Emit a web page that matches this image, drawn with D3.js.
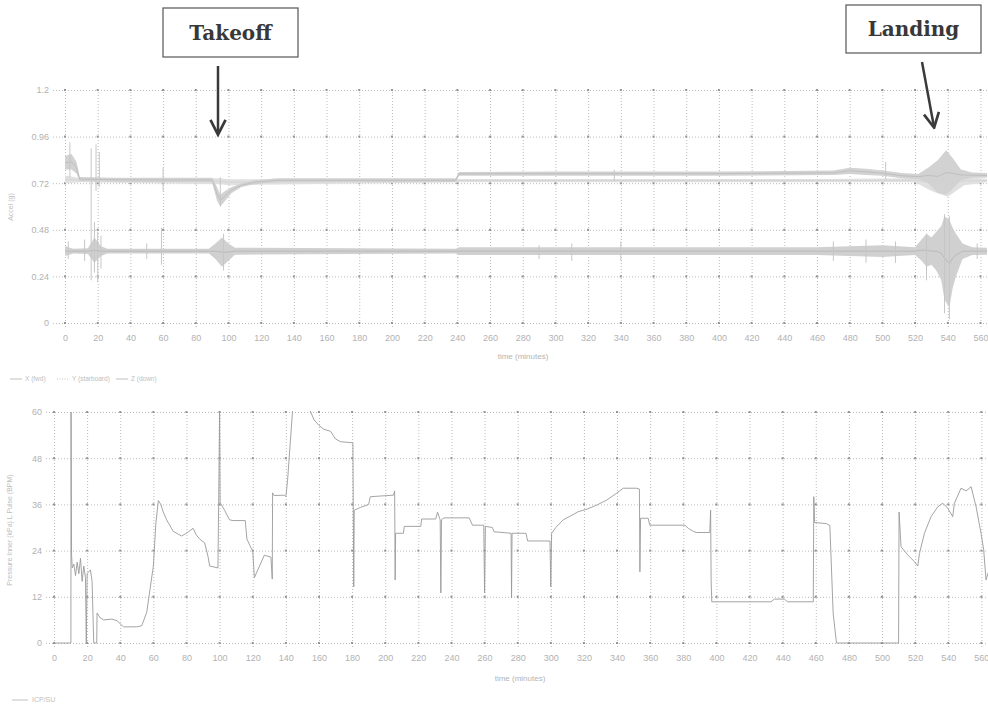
<!DOCTYPE html>
<html lang="en">
<head>
<meta charset="utf-8">
<script src="https://cdn.jsdelivr.net/npm/d3@7/dist/d3.min.js"></script>
<style>
  body { margin: 0; background: #fff; }
  svg text { font-family: "Liberation Sans", Arial, sans-serif; }
  .grid line { stroke: #bcbcbc; stroke-dasharray: 1,2; }
  .grid path { display: none; }
  .grid text { fill: #b2b2b2; font-size: 9px; }
  .note text { font-family: "DejaVu Serif", "Liberation Serif", serif; font-weight: bold; }
</style>
</head>
<body>
<svg id="chart" width="988" height="709"></svg>
<script>
// ---- shared axis values
const timeTicks = d3.range(0, 561, 20);
const topYTicks = [0, 0.24, 0.48, 0.72, 0.96, 1.2];
const topYLabels = ["0", "0.24", "0.48", "0.72", "0.96", "1.2"];
const botYTicks = [0, 12, 24, 36, 48, 60];
const botYLabels = ["0", "12", "24", "36", "48", "60"];

// ---- top chart: acceleration bands (noise envelope)
const xTime = [0, 4, 7, 9, 30, 60, 90, 93, 95, 98, 102, 108, 116, 130, 239, 241, 300, 400, 470, 480, 490, 500, 512, 522, 528, 534, 539, 543, 548, 555, 564];
const xLo   = [0.79, 0.79, 0.77, 0.73, 0.728, 0.725, 0.725, 0.63, 0.60, 0.63, 0.67, 0.70, 0.715, 0.725, 0.725, 0.758, 0.758, 0.758, 0.762, 0.768, 0.762, 0.758, 0.745, 0.74, 0.72, 0.67, 0.66, 0.69, 0.735, 0.748, 0.748];
const xHi   = [0.86, 0.87, 0.83, 0.752, 0.748, 0.748, 0.748, 0.70, 0.66, 0.68, 0.70, 0.72, 0.735, 0.745, 0.745, 0.778, 0.78, 0.78, 0.785, 0.80, 0.795, 0.785, 0.772, 0.768, 0.80, 0.84, 0.89, 0.85, 0.79, 0.775, 0.772];

const yTime = [0, 10, 95, 100, 240, 300, 460, 520, 530, 540, 550, 564];
const yLo   = [0.72, 0.725, 0.715, 0.71, 0.725, 0.725, 0.725, 0.725, 0.68, 0.65, 0.71, 0.725];
const yHi   = [0.76, 0.745, 0.745, 0.74, 0.742, 0.742, 0.742, 0.745, 0.77, 0.79, 0.755, 0.742];

const zTime = [0, 5, 14, 18, 22, 26, 88, 92, 96, 100, 104, 239, 241, 460, 480, 500, 520, 524, 527, 530, 533, 536, 538, 541, 543, 545, 549, 555, 564];
const zLo   = [0.345, 0.358, 0.355, 0.31, 0.345, 0.358, 0.358, 0.33, 0.29, 0.32, 0.352, 0.358, 0.35, 0.35, 0.345, 0.34, 0.35, 0.32, 0.29, 0.30, 0.27, 0.22, 0.12, 0.08, 0.18, 0.24, 0.33, 0.35, 0.352];
const zHi   = [0.395, 0.382, 0.385, 0.44, 0.395, 0.382, 0.382, 0.41, 0.44, 0.41, 0.388, 0.382, 0.39, 0.39, 0.395, 0.40, 0.39, 0.43, 0.46, 0.44, 0.47, 0.50, 0.55, 0.53, 0.49, 0.46, 0.41, 0.39, 0.388];

// single spikes: time, low, high
const spikeTime = [2, 3, 12, 16, 18, 19, 20, 21, 22, 50, 59, 60, 95, 97, 290, 310, 336, 340, 470, 490, 502, 508, 527, 538, 541, 558];
const spikeLo   = [0.33, 0.75, 0.32, 0.22, 0.26, 0.68, 0.21, 0.70, 0.28, 0.33, 0.30, 0.68, 0.60, 0.27, 0.33, 0.32, 0.73, 0.32, 0.32, 0.31, 0.74, 0.31, 0.22, 0.05, 0.02, 0.33];
const spikeHi   = [0.42, 0.93, 0.43, 0.90, 0.52, 0.92, 0.47, 0.88, 0.45, 0.41, 0.49, 0.80, 0.75, 0.46, 0.40, 0.41, 0.79, 0.42, 0.42, 0.43, 0.83, 0.42, 0.46, 0.56, 0.55, 0.41];

// ---- bottom chart: pressure trace
const pTime = [0, 10.2, 10.3, 10.6, 11, 12, 13, 14, 15, 16, 17, 18, 19, 19.5, 20, 22, 23, 24, 25.8, 26, 28, 30, 35, 38, 40, 42, 50, 53, 56, 58, 60, 61.5, 63, 64.5, 66, 68, 72, 77, 80, 84, 86, 88, 91, 93, 94, 99, 100, 100.3, 103, 106, 108, 115.5, 116.5, 119.5, 120, 121, 127, 131, 131.8, 132, 133, 139, 140, 141, 144, 146, 152, 155, 157, 160, 163, 167, 170, 173, 180.5, 181, 181.3, 185, 190, 191, 205, 205.7, 206, 206.3, 211, 211.5, 221.5, 222, 230.5, 231.6, 233.2, 233.6, 234, 235.6, 250.7, 252.7, 259.5, 260, 260.5, 264.7, 265.7, 276, 276.3, 276.6, 285, 286, 299.5, 300, 300.5, 303, 307.5, 312, 316.5, 322, 327.6, 333.7, 339.7, 343.7, 351.8, 353.5, 353.8, 354.2, 358.8, 359.8, 381, 383, 386, 388, 396, 396.5, 396.8, 397.2, 433, 435, 441, 443, 458.5, 458.8, 459.3, 466.5, 468.5, 470.5, 472.5, 510, 510.3, 511.5, 515.5, 519.6, 521.6, 522.6, 525.6, 529.6, 533.7, 536.7, 539.7, 542.7, 543.7, 547.7, 550.8, 553.8, 556.8, 559.8, 561.4, 562.8, 564.5];
const pValue = [0, 0, 60, 23, 19.5, 20.5, 17.5, 21, 18, 22, 16, 20, 17, 0, 18, 19, 16, 0, 0, 7.8, 6.5, 6, 6.2, 5.8, 5, 4.2, 4.2, 4.5, 8, 14, 20, 31, 37, 36, 34, 32, 29, 27.8, 28.5, 29.8, 28, 27, 26, 22.5, 20, 19.5, 60, 36.5, 34.5, 32, 31.8, 31.8, 27, 24.2, 24, 17, 22.8, 22.3, 16.6, 39, 38.3, 38.4, 38, 42, 60, 66, 64, 60, 58, 56.5, 55.5, 55, 53, 52.3, 52, 14.6, 34.5, 35.2, 36, 38, 38.4, 39.5, 16.4, 28.5, 28.5, 30.3, 30.3, 32.2, 32.2, 34, 32, 13, 32, 32.5, 32.5, 30.6, 30.6, 13, 30.3, 30, 28.9, 28.5, 11.7, 28.5, 28.5, 26.5, 26.5, 14.6, 28.5, 30, 32, 33, 34.1, 34.8, 35.8, 37.1, 38.9, 40.2, 40.2, 40, 18.5, 32.4, 32.4, 30.6, 30.6, 29.8, 29, 28.7, 28.7, 34.5, 16.4, 10.7, 10.7, 11.4, 11.4, 10.7, 10.7, 38, 31.3, 31, 30.5, 7.7, 0, 0, 34, 25, 22.9, 21.1, 20, 23.2, 28.5, 32.8, 35.4, 36.3, 35, 32.8, 36.3, 40.2, 39.5, 40.6, 35.4, 28.5, 24.2, 16.4, 18.8];

const svg = d3.select("#chart");

function frame(g, x, y, yTicks, yLabels, gridLeft) {
    const right = x.range()[1];
    const top = y.range()[1], bottom = y.range()[0];

    g.append("g").attr("class", "grid")
        .attr("transform", `translate(0,${bottom + 4})`)
        .call(d3.axisBottom(x).tickValues(timeTicks).tickSize(-(bottom - top + 4)).tickPadding(6))
        .call(s => s.selectAll("text").attr("dy", "0.9em"));

    g.append("g").attr("class", "grid")
        .attr("transform", `translate(${gridLeft},0)`)
        .call(d3.axisLeft(y).tickValues(yTicks).tickSize(-(right - gridLeft))
            .tickFormat((d, i) => yLabels[i]).tickPadding(4));

    // darker dots where grid lines cross
    const dots = [];
    timeTicks.forEach(t => yTicks.forEach(v => dots.push([t, v])));
    g.append("g").selectAll("rect").data(dots).join("rect")
        .attr("x", d => x(d[0]) - 1).attr("y", d => y(d[1]) - 1)
        .attr("width", 2).attr("height", 2).attr("fill", "#939393");
}

// ================= top chart
const xTop = d3.scaleLinear().domain([0, 564]).range([65, 987]);
const yTop = d3.scaleLinear().domain([0, 1.2]).range([323, 90]);
const gTop = svg.append("g");
frame(gTop, xTop, yTop, topYTicks, topYLabels, 53);

svg.append("clipPath").attr("id", "clipTop").append("rect")
    .attr("x", 65).attr("y", 90).attr("width", 922).attr("height", 233);
const topPlot = gTop.append("g").attr("clip-path", "url(#clipTop)");

const band = (ts, lo, hi, fill, stroke) => {
    const rows = ts.map((t, i) => ({ t, lo: lo[i], hi: hi[i] }));
    topPlot.append("path").datum(rows)
        .attr("fill", fill)
        .attr("d", d3.area().x(d => xTop(d.t)).y0(d => yTop(d.lo)).y1(d => yTop(d.hi)));
    topPlot.append("path").datum(rows)
        .attr("fill", "none").attr("stroke", stroke).attr("stroke-width", 0.8)
        .attr("d", d3.line().x(d => xTop(d.t)).y(d => yTop((d.lo + d.hi) / 2)));
};
band(yTime, yLo, yHi, "#e0e0e0", "#d2d2d2");
band(xTime, xLo, xHi, "#d2d2d2", "#bababa");
band(zTime, zLo, zHi, "#d0d0d0", "#b4b4b4");

topPlot.append("g").selectAll("line").data(spikeTime).join("line")
    .attr("x1", d => xTop(d)).attr("x2", d => xTop(d))
    .attr("y1", (d, i) => yTop(spikeLo[i])).attr("y2", (d, i) => yTop(spikeHi[i]))
    .attr("stroke", "#c6c6c6").attr("stroke-width", 1);

gTop.append("text").attr("x", 523).attr("y", 359).attr("text-anchor", "middle")
    .attr("font-size", 8).attr("fill", "#b4b4b4").text("time (minutes)");
gTop.append("text").attr("transform", "translate(13,207) rotate(-90)").attr("text-anchor", "middle")
    .attr("font-size", 7).attr("fill", "#bcbcbc").text("Accel (g)");

// legend (top)
const topLegend = [
    { name: "X (fwd)", x: 10, dash: null },
    { name: "Y (starboard)", x: 57, dash: "1,1.5" },
    { name: "Z (down)", x: 116, dash: null }
];
const lg = svg.append("g").selectAll("g").data(topLegend).join("g")
    .attr("transform", d => `translate(${d.x},379)`);
lg.append("line").attr("x1", 0).attr("x2", 12).attr("stroke", "#c0c0c0")
    .attr("stroke-dasharray", d => d.dash);
lg.append("text").attr("x", 15).attr("dy", "0.35em").attr("font-size", 6.5)
    .attr("fill", "#c0c0c0").text(d => d.name);

// ================= bottom chart
const xBot = d3.scaleLinear().domain([0, 564]).range([54, 988]);
const yBot = d3.scaleLinear().domain([0, 60]).range([643, 412]);
const gBot = svg.append("g");
frame(gBot, xBot, yBot, botYTicks, botYLabels, 46);

svg.append("clipPath").attr("id", "clipBot").append("rect")
    .attr("x", 54).attr("y", 411).attr("width", 934).attr("height", 233);
const pRows = pTime.map((t, i) => ({ t, v: pValue[i] }));
gBot.append("path").datum(pRows).attr("clip-path", "url(#clipBot)")
    .attr("fill", "none").attr("stroke", "#9a9a9a").attr("stroke-width", 0.9)
    .attr("d", d3.line().x(d => xBot(d.t)).y(d => yBot(d.v)));

gBot.append("text").attr("x", 520).attr("y", 681).attr("text-anchor", "middle")
    .attr("font-size", 8).attr("fill", "#b4b4b4").text("time (minutes)");
gBot.append("text").attr("transform", "translate(12,530) rotate(-90)").attr("text-anchor", "middle")
    .attr("font-size", 7).attr("fill", "#bcbcbc").text("Pressure Inner (kPa) L Pulse (BPM)");

const lb = svg.append("g").attr("transform", "translate(12,700)");
lb.append("line").attr("x1", 0).attr("x2", 16).attr("stroke", "#c0c0c0");
lb.append("text").attr("x", 20).attr("dy", "0.35em").attr("font-size", 7)
    .attr("fill", "#c0c0c0").text("ICP/SU");

// ================= annotations
const notes = [
    { label: "Takeoff", bx: 163, by: 8, bw: 135, bh: 49, ax1: 218, ay1: 66, ax2: 218, ay2: 134 },
    { label: "Landing", bx: 846, by: 5, bw: 135, bh: 48, ax1: 922, ay1: 62, ax2: 934, ay2: 127 }
];
svg.append("defs").append("marker").attr("id", "head")
    .attr("viewBox", "0 0 10 10").attr("refX", 8.6).attr("refY", 5)
    .attr("markerWidth", 18).attr("markerHeight", 18).attr("orient", "auto")
    .attr("markerUnits", "userSpaceOnUse")
    .append("path").attr("d", "M0.8,0.8 L9,5 L0.8,9.2").attr("fill", "none")
    .attr("stroke", "#3a3a3a").attr("stroke-width", 1.5);
const ng = svg.append("g").attr("class", "note").selectAll("g").data(notes).join("g");
ng.append("rect").attr("x", d => d.bx).attr("y", d => d.by).attr("width", d => d.bw).attr("height", d => d.bh)
    .attr("fill", "#fff").attr("stroke", "#555").attr("stroke-width", 1.2);
ng.append("text").attr("x", d => d.bx + d.bw / 2).attr("y", d => d.by + d.bh / 2)
    .attr("dy", "0.35em").attr("text-anchor", "middle").attr("font-size", 20)
    .attr("fill", "#383838").text(d => d.label);
ng.append("line").attr("x1", d => d.ax1).attr("y1", d => d.ay1).attr("x2", d => d.ax2).attr("y2", d => d.ay2)
    .attr("stroke", "#3a3a3a").attr("stroke-width", 2.5).attr("marker-end", "url(#head)");
</script>
</body>
</html>
